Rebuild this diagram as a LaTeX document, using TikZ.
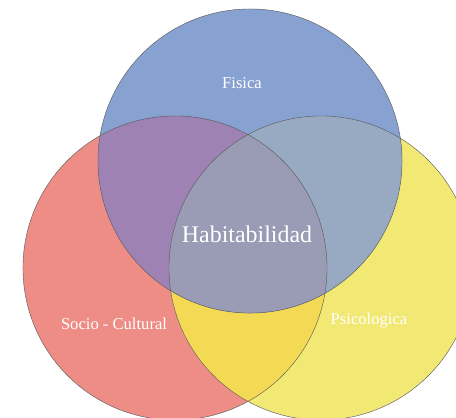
\documentclass[tikz,border=0pt]{standalone}
\usepackage{fontspec}
\setmainfont{Liberation Serif}
\usepackage{xcolor}

\definecolor{fisblue}{RGB}{135,162,208}
\definecolor{socred}{RGB}{238,141,134}
\definecolor{psiyel}{RGB}{242,232,116}
\definecolor{fissoc}{RGB}{158,130,180}
\definecolor{fispsi}{RGB}{152,170,194}
\definecolor{socpsi}{RGB}{243,217,84}
\definecolor{habcore}{RGB}{154,155,180}

\tikzset{
  rim/.style={draw=gray!70!black, line width=0.3pt},
  tagtext/.style={text=white, font=\fontsize{11.8}{14}\selectfont},
  coretext/.style={text=white, font=\fontsize{17}{20}\selectfont}
}

\begin{document}
\begin{tikzpicture}[x=0.025cm, y=-0.025cm]
    \useasboundingbox (0,0) rectangle (456,417);

    % Centres of the circles
    \coordinate (F) at (250,161);
    \coordinate (S) at (175,268);
    \coordinate (P) at (321,268);

    % Single circles
    \fill[socred] (S) circle (3.8cm);
    \fill[psiyel] (P) circle (3.8cm);
    \fill[fisblue] (F) circle (3.8cm);

    % Overlaps
    \begin{scope}
        \clip (S) circle (3.8cm);
        \fill[socpsi] (P) circle (3.8cm);
    \end{scope}
    \begin{scope}
        \clip (S) circle (3.8cm);
        \fill[fissoc] (F) circle (3.8cm);
    \end{scope}
    \begin{scope}
        \clip (P) circle (3.8cm);
        \fill[fispsi] (F) circle (3.8cm);
    \end{scope}
    \begin{scope}
        \clip (S) circle (3.8cm);
        \clip (P) circle (3.8cm);
        \fill[habcore] (F) circle (3.8cm);
    \end{scope}

    % Outlines
    \foreach \c in {S,P,F}
        \draw[rim] (\c) circle (3.8cm);

    % Labels
    \node[tagtext] (fisica) at (242,83) {Fisica};
    \node[coretext] (habit) at (247,234) {Habitabilidad};
    \node[tagtext] (socio) at (114,324) {Socio - Cultural};
    \node[tagtext] (psico) at (369,321) {Psicologica};

\end{tikzpicture}
\end{document}
